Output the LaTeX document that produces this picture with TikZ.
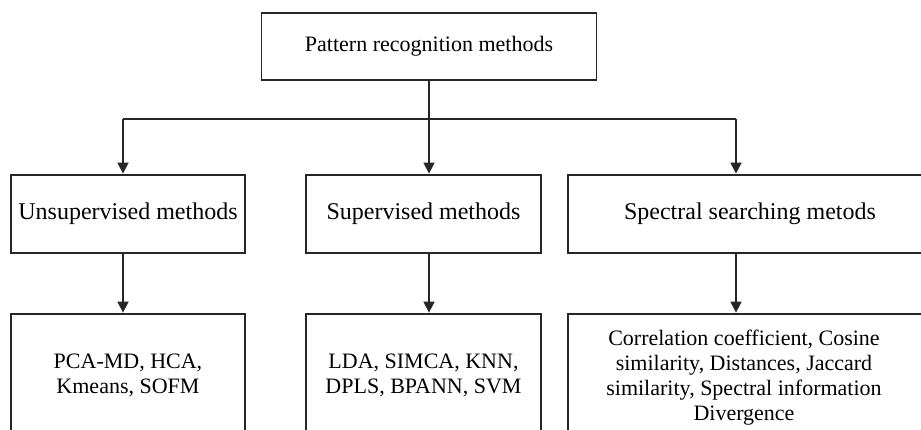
\documentclass[tikz,border=0pt]{standalone}
\usepackage{fontspec}
\setmainfont{Liberation Serif}
\usetikzlibrary{arrows.meta}
\tikzset{
  box/.style={draw=black!85, line width=1.6pt, rectangle, inner sep=0pt, align=center},
  midtext/.style={font=\fontsize{24}{28}\selectfont},
  lowtext/.style={font=\fontsize{22}{25}\selectfont},
  conn/.style={draw=black!85, line width=1.6pt},
  arr/.style={conn, -{Triangle[width=11pt,length=11pt]}, shorten >=0.6pt}
}
\begin{document}
\begin{tikzpicture}[x=1pt,y=-1pt]
\useasboundingbox (0,0) rectangle (921,429);
\clip (0,0) rectangle (921,429);
\fill[white] (0,0) rectangle (921,429);

\node[box, minimum width=335pt, minimum height=67pt, font=\fontsize{22}{25}\selectfont] (top) at (429,46.5) {Pattern recognition methods};

\node[box, midtext, minimum width=234pt, minimum height=78pt] (unsup) at (128,214) {Unsupervised methods};
\node[box, midtext, minimum width=235pt, minimum height=78pt] (sup) at (423.5,214) {Supervised methods};
\node[box, midtext, minimum width=364pt, minimum height=78pt] (spec) at (750,214) {Spectral searching metods};

\node[box, lowtext, minimum width=234pt, minimum height=123pt] (lowA) at (128,375.5) {PCA-MD, HCA,\\Kmeans, SOFM};
\node[box, lowtext, minimum width=235pt, minimum height=123pt] (lowB) at (423.5,375.5) {LDA, SIMCA, KNN,\\DPLS, BPANN, SVM};
\node[box, minimum width=364pt, minimum height=123pt] (lowC) at (750,375.5) {};
\node[lowtext, align=center, inner sep=0pt] (lowCtext) at (744,377.5) {Correlation coefficient, Cosine\\similarity, Distances, Jaccard\\similarity, Spectral information\\Divergence};

\coordinate (bar) at (429,119);
\coordinate (j1) at (123,119);
\coordinate (j3) at (736,119);

\draw[conn] (top.south) -- (bar);
\draw[conn] (j1) -- (j3);
\draw[arr] (j1) -- (j1 |- unsup.north);
\draw[arr] (bar) -- (bar |- sup.north);
\draw[arr] (j3) -- (j3 |- spec.north);

\draw[arr] (unsup.south -| j1) -- (lowA.north -| j1);
\draw[arr] (sup.south -| bar) -- (lowB.north -| bar);
\draw[arr] (spec.south -| j3) -- (lowC.north -| j3);
\end{tikzpicture}
\end{document}
